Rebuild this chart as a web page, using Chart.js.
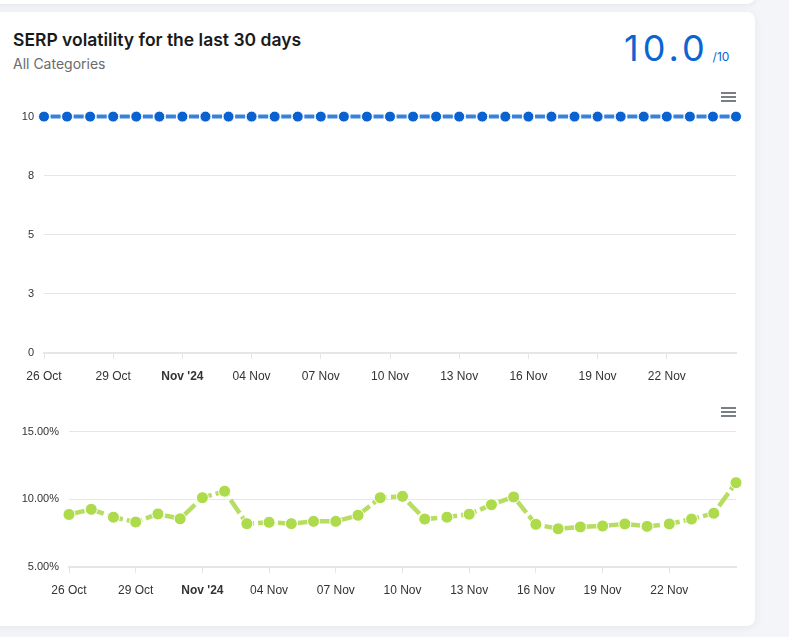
<!DOCTYPE html>
<html>
<head>
<meta charset="utf-8">
<script src="https://cdn.jsdelivr.net/npm/chart.js@4.4.1/dist/chart.umd.min.js"></script>
<style>
    html, body { margin: 0; padding: 0; }
    body { width: 789px; height: 637px; background: #f4f5f9; position: relative; overflow: hidden; font-family: Inter, "Noto Sans", sans-serif; }
    .topcard { position: absolute; left: -10px; top: -20px; width: 765px; height: 24px; background: #fff; border-radius: 8px; box-shadow: 0 2px 6px rgba(0,0,0,0.06); }
    .card { position: absolute; left: -10px; top: 12px; width: 765px; height: 614px; background: #fff; border-radius: 8px; box-shadow: 0 2px 10px rgba(0,0,0,0.06); }
    .title { position: absolute; left: 13px; top: 29px; font-size: 17.5px; font-weight: 600; color: #1a1a1a; }
    .subtitle { position: absolute; left: 13px; top: 55px; font-size: 14px; color: #6b6b6b; }
    .score { position: absolute; left: 624px; top: 26px; font-size: 36px; font-weight: 400; color: #0a64d2; letter-spacing: 4px; }
    .score small { font-size: 12px; letter-spacing: 0; margin-left: 4px; }
    .menu { position: absolute; width: 15px; height: 11px; }
    .menu span { display: block; height: 2px; background: #7a7f86; margin-bottom: 2px; }
    .box { position: absolute; left: 0; }
</style>
</head>
<body>
<div class="topcard"></div>
<div class="card"></div>
<div class="title">SERP volatility for the last 30 days</div>
<div class="subtitle">All Categories</div>
<div class="score">10.0<small>/10</small></div>
<div class="menu" style="left:721px; top:92px"><span></span><span></span><span></span></div>
<div class="menu" style="left:721px; top:407px"><span></span><span></span><span></span></div>

<div class="box" style="top:100px; width:750px; height:294px"><canvas id="scoreChart"></canvas></div>
<div class="box" style="top:415px; width:750px; height:193px"><canvas id="volatilityChart"></canvas></div>

<script>
// ============================================
// DATA
// ============================================

const dayLabels = [
    '26 Oct', '27 Oct', '28 Oct', '29 Oct', '30 Oct', '31 Oct',
    "Nov '24", '02 Nov', '03 Nov', '04 Nov', '05 Nov', '06 Nov', '07 Nov',
    '08 Nov', '09 Nov', '10 Nov', '11 Nov', '12 Nov', '13 Nov', '14 Nov',
    '15 Nov', '16 Nov', '17 Nov', '18 Nov', '19 Nov', '20 Nov', '21 Nov',
    '22 Nov', '23 Nov', '24 Nov', '25 Nov'
];

// shown x ticks (every third day)
const shownTicks = ['26 Oct', '29 Oct', "Nov '24", '04 Nov', '07 Nov', '10 Nov', '13 Nov', '16 Nov', '19 Nov', '22 Nov'];

const volatilityScore = [
    10, 10, 10, 10, 10, 10, 10, 10, 10, 10, 10, 10, 10, 10, 10, 10,
    10, 10, 10, 10, 10, 10, 10, 10, 10, 10, 10, 10, 10, 10, 10
];

const changedPercent = [
    8.88, 9.26, 8.68, 8.32, 8.92, 8.56, 10.12, 10.6, 8.2, 8.3, 8.2,
    8.37, 8.37, 8.82, 10.12, 10.22, 8.54, 8.68, 8.9, 9.6, 10.17,
    8.15, 7.82, 7.96, 8.03, 8.18, 8.0, 8.18, 8.54, 8.97, 11.23
];

const scoreTicks = { min: 0, max: 10, step: 2.5 };
const percentTicks = { min: 5, max: 15, step: 5 };

// ============================================
// CHARTS
// ============================================

const labelFont = "'Liberation Sans', Arial, sans-serif";
const gridColor = '#e6e6e6';

function xAxis() {
    return {
        type: 'category',
        offset: false,
        afterFit: scale => { scale.height = 41; },
        border: { color: gridColor, width: 2 },
        grid: { drawOnChartArea: false, drawTicks: true, tickLength: 6, color: gridColor },
        ticks: {
            autoSkip: false,
            maxRotation: 0,
            padding: 10,
            color: '#333',
            font: ctx => ({
                family: labelFont,
                size: 12,
                weight: ctx.tick && ctx.tick.label === "Nov '24" ? 'bold' : 'normal'
            }),
            callback: function (value) {
                const label = this.getLabelForValue(value);
                return shownTicks.includes(label) ? label : null;
            }
        }
    };
}

function yAxis(width, range, format) {
    return {
        min: range.min,
        max: range.max,
        afterFit: scale => { scale.width = width; },
        border: { display: false },
        grid: { color: gridColor, drawTicks: false },
        ticks: {
            stepSize: range.step,
            padding: 10,
            color: '#333',
            font: { family: labelFont, size: 11 },
            callback: format
        }
    };
}

function baseOptions(yWidth, range, format) {
    return {
        responsive: true,
        maintainAspectRatio: false,
        animation: false,
        layout: { padding: { top: 15, right: 14, left: 0, bottom: 0 } },
        plugins: { legend: { display: false }, tooltip: { enabled: false } },
        scales: {
            x: xAxis(),
            y: yAxis(yWidth, range, format)
        }
    };
}

new Chart(document.getElementById('scoreChart'), {
    type: 'line',
    data: {
        labels: dayLabels,
        datasets: [{
            data: volatilityScore,
            borderColor: 'rgba(10, 100, 210, 0.8)',
            borderWidth: 4,
            borderDash: [10, 13.07],
            borderDashOffset: 16.5,
            pointRadius: 5.5,
            pointBackgroundColor: '#0a62d0',
            pointBorderColor: '#ffffff',
            pointBorderWidth: 1,
            clip: false,
            tension: 0
        }]
    },
    options: baseOptions(44, scoreTicks, v => Math.round(v))
});

new Chart(document.getElementById('volatilityChart'), {
    type: 'line',
    data: {
        labels: dayLabels,
        datasets: [{
            data: changedPercent,
            borderColor: 'rgba(170, 216, 70, 0.85)',
            borderWidth: 4.5,
            borderDash: [16, 4],
            pointRadius: 6,
            pointBackgroundColor: '#aedb4b',
            pointBorderColor: '#ffffff',
            pointBorderWidth: 1,
            clip: false,
            tension: 0
        }]
    },
    options: baseOptions(69, percentTicks, v => v.toFixed(2) + '%')
});
</script>
</body>
</html>
